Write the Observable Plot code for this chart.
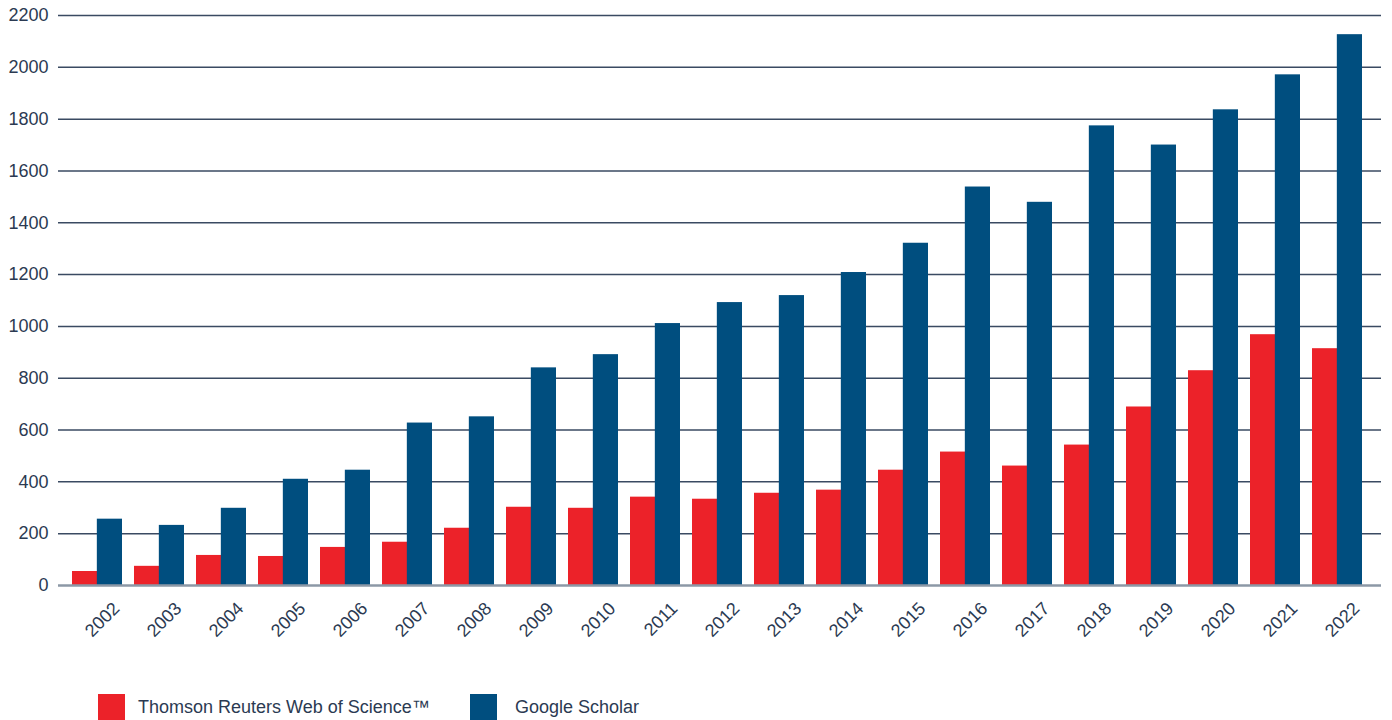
<!DOCTYPE html>
<html><head><meta charset="utf-8">
<script src="https://cdn.jsdelivr.net/npm/d3@7"></script>
<script src="https://cdn.jsdelivr.net/npm/@observablehq/plot@0.6"></script>
<style>
body{margin:0;background:#fff;font-family:"Liberation Sans",Arial,sans-serif;color:#2b3a52;overflow:hidden;}
#wrap{position:relative;width:1392px;height:720px;}
#legend{position:absolute;left:0;top:694px;width:1392px;height:30px;}
.sw{position:absolute;top:0;width:27px;height:30px;}
.lt{position:absolute;top:3px;font-size:18px;color:#2b3a52;white-space:nowrap;}
</style></head>
<body><div id="wrap"><div id="chart"></div>
<div id="legend">
<div class="sw" style="left:98px;background:#ec2229"></div><div class="lt" style="left:138px">Thomson Reuters Web of Science™</div>
<div class="sw" style="left:470px;background:#004e7f"></div><div class="lt" style="left:515px">Google Scholar</div>
</div></div>
<script>
const years = ["2002","2003","2004","2005","2006","2007","2008","2009","2010","2011","2012","2013","2014","2015","2016","2017","2018","2019","2020","2021","2022"];
const webOfScience = [54,74,116,112,147,167,221,302,298,341,333,356,368,445,515,461,542,689,829,968,914];
const googleScholar = [256,232,298,410,445,627,651,840,891,1011,1092,1119,1208,1321,1538,1479,1774,1700,1836,1971,2126];
const yTicks = [0,200,400,600,800,1000,1200,1400,1600,1800,2000,2200];
const seriesNames = ["Thomson Reuters Web of Science™","Google Scholar"];
const seriesColors = ["#ec2229","#004e7f"];

const W = 1392, mL = 58, mR = 11, pIn = 0.2;
const xRange = [71, 1362];
const step = (xRange[1] - xRange[0]) / (years.length - pIn);
const half = step * (1 - pIn) / 2;

const wosData = years.map((y, i) => ({year: y, value: webOfScience[i]}));
const gsData = years.map((y, i) => ({year: y, value: googleScholar[i]}));

const chart = Plot.plot({
  width: W, height: 660,
  marginLeft: mL, marginRight: mR, marginTop: 15, marginBottom: 75,
  style: {fontFamily: '"Liberation Sans", Arial, sans-serif', color: "#2b3a52", background: "#fff"},
  x: {domain: years, range: xRange, paddingInner: pIn, paddingOuter: 0, axis: null, label: null},
  y: {domain: [0, 2200], axis: null, label: null},
  marks: [
    Plot.ruleY(yTicks.filter(d => d > 0), {stroke: "#3a4a62", strokeWidth: 1.5}),
    Plot.barY(wosData, {x: "year", y: "value", fill: seriesColors[0], insetRight: half, insetLeft: 0}),
    Plot.barY(gsData, {x: "year", y: "value", fill: seriesColors[1], insetLeft: half, insetRight: 0}),
    Plot.ruleY([0], {stroke: "#8c98a6", strokeWidth: 2.5}),
    Plot.axisY({ticks: yTicks, tickSize: 0, tickPadding: 10, fontSize: 18, label: null, tickFormat: d => String(d)}),
    Plot.axisX({tickSize: 0, tickRotate: -45, fontSize: 18, tickPadding: 20, dx: 19, label: null})
  ]
});
document.getElementById("chart").appendChild(chart);
</script>
</body></html>
